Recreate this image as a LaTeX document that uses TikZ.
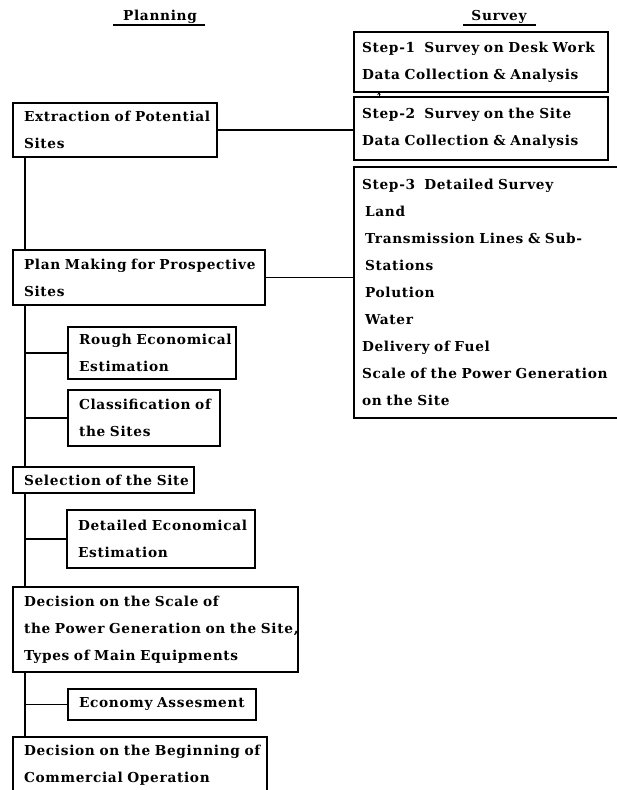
\documentclass[tikz,border=0pt]{standalone}
\usepackage{fontspec}
\setmainfont{DejaVu Serif}[LetterSpace=5]
\usetikzlibrary{arrows.meta,calc}
% one unbreakable text line inside a box
\newcommand\keepline[1]{\mbox{#1}}
\begin{document}
\begin{tikzpicture}[x=1pt,y=-1pt,
  txt/.style={font=\bfseries\fontsize{13.7}{27}\selectfont},
  box/.style={txt, draw, line width=1.5pt, rectangle, anchor=north west,
    align=left, inner xsep=11pt, inner ysep=0pt, outer sep=0pt},
  sbox/.style={box, inner xsep=8pt},
  link/.style={line width=1.5pt},
  head/.style={txt, inner sep=0pt, anchor=base}]
\useasboundingbox[fill=white] (0,0) rectangle (617,790);
\clip (0,0) rectangle (617,790);

% column headings
\node[head] (hplan) at (160,20) {Planning};
\node[head] (hsurv) at (499,20) {Survey};
\draw[link] ($(hplan.base west)+(-10,5)$) -- ($(hplan.base east)+(8,5)$);
\draw[link] ($(hsurv.base west)+(-8,5)$) -- ($(hsurv.base east)+(9,5)$);

% survey column
\node[sbox, text width=238pt, minimum height=60pt] (s1) at (354,32)
  {\keepline{Step-1\ \ Survey on Desk Work}\\\keepline{Data Collection \& Analysis}};
\node[sbox, text width=238pt, minimum height=63pt] (s2) at (354,97)
  {\keepline{Step-2\ \ Survey on the Site}\\\keepline{Data Collection \& Analysis}};
\node[sbox, text width=264pt, minimum height=251pt] (s3) at (354,167)
  {\keepline{Step-3\ \ Detailed Survey}\\
   \keepline{\hspace{3pt}Land}\\
   \keepline{\hspace{3pt}Transmission Lines \& Sub-}\\
   \keepline{\hspace{3pt}Stations}\\
   \keepline{\hspace{3pt}Polution}\\
   \keepline{\hspace{3pt}Water}\\
   \keepline{Delivery of Fuel}\\
   \keepline{Scale of the Power Generation}\\
   \keepline{on the Site}};

% planning column
\node[box, text width=182pt, minimum height=54pt] (ext) at (13,103)
  {\keepline{Extraction of Potential}\\\keepline{Sites}};
\node[box, text width=230pt, minimum height=55pt] (plan) at (13,250)
  {\keepline{Plan Making for Prospective}\\\keepline{Sites}};
\node[box, text width=146pt, minimum height=52pt] (rough) at (68,327)
  {\keepline{Rough Economical}\\\keepline{Estimation}};
\node[box, text width=130pt, minimum height=56pt] (cls) at (68,390)
  {\keepline{Classification of}\\\keepline{the Sites}};
\node[box, text width=159pt, minimum height=26pt] (sel) at (13,467)
  {\keepline{Selection of the Site}};
\node[box, text width=166pt, minimum height=58pt] (det) at (67,510)
  {\keepline{Detailed Economical}\\\keepline{Estimation}};
\node[box, text width=263pt, minimum height=85pt] (dec) at (13,587)
  {\keepline{Decision on the Scale of}\\\keepline{the Power Generation on the Site,}\\\keepline{Types of Main Equipments}};
\node[box, text width=166pt, minimum height=31pt] (eco) at (68,689)
  {\keepline{Economy Assesment}};
\node[box, text width=232pt, minimum height=56pt] (db) at (13,737)
  {\keepline{Decision on the Beginning of}\\\keepline{Commercial Operation}};

% main spine of the planning steps
\coordinate (sp) at (25,0);
\draw[link] (ext.south -| sp) -- (plan.north -| sp);
\draw[link] (plan.south -| sp) -- (sel.north -| sp);
\draw[link] (sel.south -| sp) -- (dec.north -| sp);
\draw[link] (dec.south -| sp) -- (db.north -| sp);

% side branches
\draw[link] (rough.west -| sp) -- (rough.west);
\draw[link] (cls.west -| sp) -- (cls.west);
\draw[link] (det.west -| sp) -- (det.west);
\draw[link] (eco.west -| sp) -- (eco.west);

% links to the survey column
\draw[link] (ext.east) -- (s2.west |- ext.east);
\draw[link] (plan.east) -- (s3.west |- plan.east);
\coordinate (tk) at (379,0);
\draw[line width=1pt, -{Stealth[length=3pt,width=3.5pt]}] (s2.north -| tk) -- (s1.south -| tk);
\end{tikzpicture}
\end{document}
